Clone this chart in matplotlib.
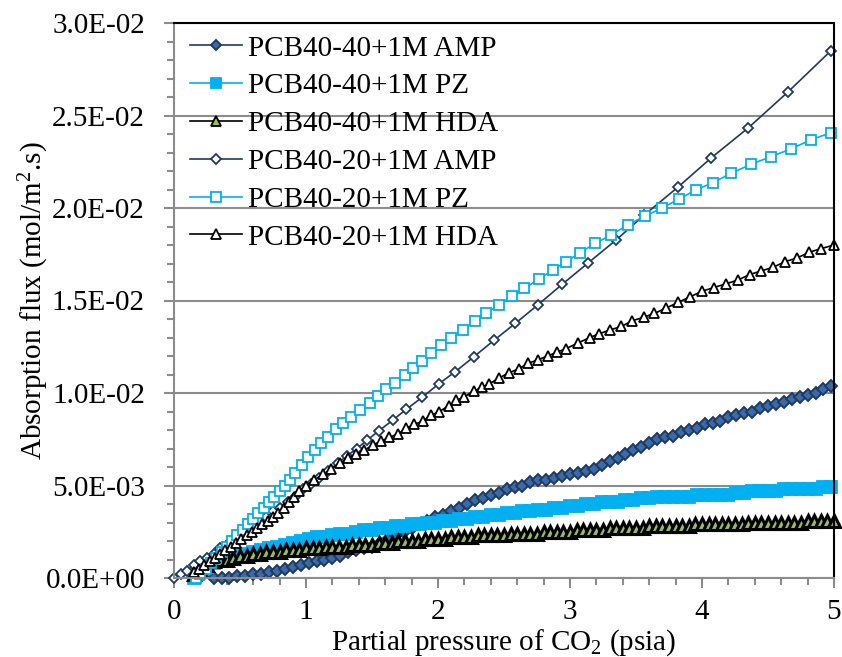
import matplotlib
matplotlib.use("Agg")
import matplotlib.pyplot as plt
from matplotlib.ticker import MultipleLocator, FuncFormatter
import numpy as np

plt.rcParams['font.family'] = ['Liberation Serif', 'DejaVu Serif']
plt.rcParams['mathtext.fontset'] = 'custom'
plt.rcParams['mathtext.rm'] = 'Liberation Serif'

# PCB40-40 membranes
amp40_x = [0.30, 0.36, 0.42, 0.48, 0.54, 0.60, 0.66, 0.72, 0.78, 0.84, 0.90, 0.96,
           1.02, 1.08, 1.14, 1.20, 1.26, 1.32, 1.38, 1.44, 1.50, 1.56, 1.62, 1.68,
           1.74, 1.80, 1.86, 1.92, 1.98, 2.04, 2.10, 2.16, 2.22, 2.28, 2.34, 2.40,
           2.46, 2.52, 2.58, 2.64, 2.70, 2.76, 2.82, 2.88, 2.94, 3.00, 3.06, 3.12,
           3.18, 3.24, 3.30, 3.36, 3.42, 3.48, 3.54, 3.60, 3.66, 3.72, 3.78, 3.84,
           3.90, 3.96, 4.02, 4.08, 4.14, 4.20, 4.26, 4.32, 4.38, 4.44, 4.50, 4.56,
           4.62, 4.68, 4.74, 4.80, 4.86, 4.92, 4.98]
amp40_y = [0.0000, 0.0000, 0.0000, 0.0001, 0.0001, 0.0002, 0.0002, 0.0003, 0.0004, 0.0005, 0.0006, 0.0007,
           0.0008, 0.0009, 0.0010, 0.0011, 0.0012, 0.0014, 0.0015, 0.0016, 0.0017, 0.0019, 0.0021, 0.0023,
           0.0025, 0.0027, 0.0029, 0.0031, 0.0033, 0.0034, 0.0036, 0.0038, 0.0040, 0.0042, 0.0043, 0.0045,
           0.0046, 0.0048, 0.0049, 0.0050, 0.0052, 0.0053, 0.0053, 0.0054, 0.0055, 0.0056, 0.0057, 0.0058,
           0.0059, 0.0061, 0.0063, 0.0065, 0.0067, 0.0069, 0.0071, 0.0073, 0.0075, 0.0076, 0.0077, 0.0079,
           0.0080, 0.0081, 0.0083, 0.0084, 0.0085, 0.0087, 0.0088, 0.0089, 0.0090, 0.0092, 0.0093, 0.0094,
           0.0095, 0.0097, 0.0098, 0.0099, 0.0100, 0.0102, 0.0104]

pz40_x = [0.15, 0.18, 0.21, 0.25, 0.30, 0.36, 0.42, 0.48, 0.54, 0.60, 0.66, 0.72, 0.78, 0.84,
          0.90, 0.96, 1.02, 1.08, 1.14, 1.20, 1.26, 1.32, 1.38, 1.44, 1.50, 1.56, 1.62, 1.68,
          1.74, 1.80, 1.86, 1.92, 1.98, 2.04, 2.10, 2.16, 2.22, 2.28, 2.34, 2.40, 2.46, 2.52,
          2.58, 2.64, 2.70, 2.76, 2.82, 2.88, 2.94, 3.00, 3.06, 3.12, 3.18, 3.24, 3.30, 3.36,
          3.42, 3.48, 3.54, 3.60, 3.66, 3.72, 3.78, 3.84, 3.90, 3.96, 4.02, 4.08, 4.14, 4.20,
          4.26, 4.32, 4.38, 4.44, 4.50, 4.56, 4.62, 4.68, 4.74, 4.80, 4.86, 4.92, 4.98]
pz40_y = [0.0000, 0.0002, 0.0004, 0.0006, 0.0008, 0.0010, 0.0011, 0.0012, 0.0013, 0.0014, 0.0015, 0.0016, 0.0017, 0.0018,
          0.0019, 0.0020, 0.0021, 0.0022, 0.0022, 0.0023, 0.0024, 0.0024, 0.0025, 0.0026, 0.0026, 0.0027, 0.0027, 0.0028,
          0.0028, 0.0029, 0.0029, 0.0030, 0.0030, 0.0031, 0.0031, 0.0032, 0.0032, 0.0033, 0.0033, 0.0034, 0.0034, 0.0035,
          0.0035, 0.0036, 0.0036, 0.0037, 0.0037, 0.0038, 0.0038, 0.0039, 0.0039, 0.0040, 0.0040, 0.0041, 0.0041, 0.0041,
          0.0042, 0.0042, 0.0043, 0.0043, 0.0044, 0.0044, 0.0044, 0.0044, 0.0044, 0.0045, 0.0045, 0.0045, 0.0045, 0.0045,
          0.0046, 0.0046, 0.0047, 0.0047, 0.0047, 0.0047, 0.0048, 0.0048, 0.0048, 0.0048, 0.0048, 0.0049, 0.0049]

hda40_x = [0.15, 0.20, 0.25, 0.30, 0.35, 0.40, 0.45, 0.50, 0.55, 0.60, 0.65, 0.70, 0.75, 0.80,
           0.85, 0.90, 0.95, 1.00, 1.05, 1.10, 1.15, 1.20, 1.25, 1.30, 1.35, 1.40, 1.45, 1.50,
           1.55, 1.60, 1.65, 1.70, 1.75, 1.80, 1.85, 1.90, 1.95, 2.00, 2.05, 2.10, 2.15, 2.20,
           2.25, 2.30, 2.35, 2.40, 2.45, 2.50, 2.55, 2.60, 2.65, 2.70, 2.75, 2.80, 2.85, 2.90,
           2.95, 3.00, 3.05, 3.10, 3.15, 3.20, 3.25, 3.30, 3.35, 3.40, 3.45, 3.50, 3.55, 3.60,
           3.65, 3.70, 3.75, 3.80, 3.85, 3.90, 3.95, 4.00, 4.05, 4.10, 4.15, 4.20, 4.25, 4.30,
           4.35, 4.40, 4.45, 4.50, 4.55, 4.60, 4.65, 4.70, 4.75, 4.80, 4.85, 4.90, 4.95, 5.00]
hda40_y = [0.0002, 0.0005, 0.0007, 0.0009, 0.0010, 0.0010, 0.0011, 0.0012, 0.0012, 0.0013, 0.0013, 0.0014, 0.0014, 0.0014,
           0.0015, 0.0015, 0.0015, 0.0016, 0.0016, 0.0016, 0.0017, 0.0017, 0.0017, 0.0017, 0.0018, 0.0018, 0.0018, 0.0018,
           0.0019, 0.0019, 0.0019, 0.0020, 0.0020, 0.0020, 0.0020, 0.0021, 0.0021, 0.0021, 0.0021, 0.0022, 0.0022, 0.0022,
           0.0022, 0.0023, 0.0023, 0.0023, 0.0023, 0.0023, 0.0024, 0.0024, 0.0024, 0.0024, 0.0024, 0.0025, 0.0025, 0.0025,
           0.0025, 0.0025, 0.0026, 0.0026, 0.0026, 0.0026, 0.0026, 0.0027, 0.0027, 0.0027, 0.0027, 0.0027, 0.0027, 0.0028,
           0.0028, 0.0028, 0.0028, 0.0028, 0.0028, 0.0028, 0.0029, 0.0029, 0.0029, 0.0029, 0.0029, 0.0029, 0.0029, 0.0029,
           0.0030, 0.0030, 0.0030, 0.0030, 0.0030, 0.0030, 0.0030, 0.0030, 0.0030, 0.0031, 0.0031, 0.0031, 0.0031, 0.0031]

# PCB40-20 membranes
amp20_x = [0.00, 0.05, 0.10, 0.15, 0.20, 0.25, 0.30, 0.35, 0.40, 0.45, 0.50, 0.55, 0.60, 0.65,
           0.70, 0.75, 0.80, 0.86, 0.92, 0.98, 1.04, 1.10, 1.17, 1.24, 1.31, 1.385, 1.465, 1.553,
           1.659, 1.760, 1.881, 2.005, 2.131, 2.272, 2.426, 2.587, 2.756, 2.940, 3.139, 3.349,
           3.563, 3.815, 4.070, 4.352, 4.654, 4.975]
amp20_y = [0.0000, 0.0002, 0.0004, 0.0007, 0.0009, 0.0011, 0.0013, 0.0016, 0.0018, 0.0021, 0.0023, 0.0026, 0.0028, 0.0031,
           0.0033, 0.0036, 0.0038, 0.0041, 0.0044, 0.0048, 0.0051, 0.0054, 0.0058, 0.0062, 0.0066, 0.0070, 0.00746, 0.00796,
           0.00854, 0.00912, 0.00977, 0.01049, 0.01115, 0.01196, 0.01286, 0.01377, 0.01476, 0.01587, 0.01704, 0.01827,
           0.01962, 0.02111, 0.02271, 0.02434, 0.02629, 0.02849]

pz20_x = [0.17, 0.20, 0.24, 0.28, 0.32, 0.36, 0.40, 0.44, 0.48, 0.52, 0.56, 0.60, 0.64, 0.68,
          0.72, 0.76, 0.80, 0.84, 0.88, 0.915, 0.966, 1.016, 1.067, 1.117, 1.167, 1.231, 1.281, 1.344,
          1.407, 1.483, 1.545, 1.609, 1.672, 1.747, 1.810, 1.881, 1.949, 2.025, 2.100, 2.188, 2.277,
          2.365, 2.461, 2.562, 2.655, 2.763, 2.869, 2.970, 3.076, 3.192, 3.311, 3.437, 3.568, 3.694,
          3.822, 3.954, 4.080, 4.223, 4.370, 4.521, 4.672, 4.824, 4.975]
pz20_y = [0.0000, 0.0002, 0.0005, 0.0008, 0.0011, 0.0014, 0.0017, 0.0020, 0.0023, 0.0026, 0.0029, 0.0032, 0.0035, 0.0038,
          0.0041, 0.0044, 0.0047, 0.0050, 0.0053, 0.00566, 0.00611, 0.00656, 0.00692, 0.00728, 0.00764, 0.00804, 0.00836, 0.00872,
          0.00908, 0.00948, 0.00984, 0.01020, 0.01056, 0.01097, 0.01134, 0.01175, 0.01215, 0.01259, 0.01296, 0.01341, 0.01389,
          0.01431, 0.01476, 0.01524, 0.01566, 0.01615, 0.01665, 0.01710, 0.01759, 0.01809, 0.01854, 0.01908, 0.01957, 0.01998,
          0.02047, 0.02097, 0.02137, 0.02188, 0.02236, 0.02277, 0.02319, 0.02368, 0.02407]

hda20_x = [0.15, 0.19, 0.23, 0.27, 0.31, 0.35, 0.39, 0.43, 0.47, 0.51, 0.55, 0.59, 0.63, 0.67,
           0.71, 0.75, 0.79, 0.83, 0.87, 0.91, 0.95, 1.00, 1.06, 1.13, 1.19, 1.26, 1.32, 1.38,
           1.44, 1.51, 1.57, 1.63, 1.70, 1.76, 1.82, 1.89, 1.95, 2.01, 2.08, 2.14, 2.20, 2.27,
           2.33, 2.39, 2.46, 2.54, 2.61, 2.68, 2.76, 2.83, 2.90, 2.97, 3.06, 3.15, 3.22, 3.30,
           3.39, 3.47, 3.56, 3.64, 3.73, 3.82, 3.91, 4.00, 4.09, 4.18, 4.27, 4.36, 4.45, 4.54,
           4.63, 4.72, 4.81, 4.90, 5.00]
hda20_y = [0.0003, 0.0005, 0.0007, 0.0009, 0.0011, 0.0013, 0.0015, 0.0017, 0.0019, 0.0021, 0.0023, 0.0025, 0.0027, 0.0029,
           0.0031, 0.0033, 0.0035, 0.0038, 0.0041, 0.0044, 0.0047, 0.0050, 0.0053, 0.0056, 0.0059, 0.0062, 0.0065, 0.0067,
           0.0069, 0.0072, 0.0074, 0.0076, 0.0078, 0.0081, 0.0083, 0.0085, 0.0088, 0.0090, 0.0093, 0.0096, 0.0098, 0.0101,
           0.0103, 0.0105, 0.0108, 0.0111, 0.0113, 0.0116, 0.0118, 0.0120, 0.0122, 0.0124, 0.0127, 0.0130, 0.0132, 0.0134,
           0.0136, 0.0139, 0.0141, 0.0143, 0.0146, 0.0149, 0.0152, 0.0155, 0.0157, 0.0159, 0.0161, 0.0164, 0.0166, 0.0168,
           0.0171, 0.0173, 0.0176, 0.0178, 0.0180]

navy = '#1F3A5F'
cyan = '#00B0F0'

fig = plt.figure(figsize=(8.42, 6.57), dpi=100)
ax = fig.add_axes([174 / 842, 79 / 657, 660 / 842, 555 / 657])

common = dict(lw=1.2, clip_on=False)
ax.plot(amp40_x, amp40_y, color=navy, marker='D', ms=6.5, mew=1.4, mfc='#3C6AA8', mec=navy,
        label='PCB40-40+1M AMP', **common)
ax.plot(pz40_x, pz40_y, color=cyan, marker='s', ms=8.5, mew=1.3, mfc=cyan, mec=cyan,
        label='PCB40-40+1M PZ', **common)
ax.plot(hda40_x, hda40_y, color='black', marker='^', ms=8.5, mew=2.2, mfc='#9BBB59', mec='black',
        label='PCB40-40+1M HDA', **common)
ax.plot(amp20_x, amp20_y, color=navy, marker='D', ms=5, mew=1.3, mfc='white', mec=navy,
        label='PCB40-20+1M AMP', **common)
ax.plot(pz20_x, pz20_y, color=cyan, marker='s', ms=7, mew=1.3, mfc='white', mec=cyan,
        label='PCB40-20+1M PZ', **common)
ax.plot(hda20_x, hda20_y, color='black', marker='^', ms=7, mew=1.3, mfc='white', mec='black',
        label='PCB40-20+1M HDA', **common)

ax.set_xlim(0, 5)
ax.set_ylim(0, 0.03)
ax.xaxis.set_major_locator(MultipleLocator(1))
ax.xaxis.set_minor_locator(MultipleLocator(0.2))
ax.yaxis.set_major_locator(MultipleLocator(0.005))
ax.yaxis.set_minor_locator(MultipleLocator(0.001))
ax.yaxis.set_major_formatter(FuncFormatter(lambda v, p: f"{v:.1E}"))

ax.grid(axis='y', which='major', color='#8C8C8C', lw=1.5, zorder=0)
ax.set_axisbelow(True)

for side in ['left', 'bottom']:
    ax.spines[side].set_color('#8C8C8C')
    ax.spines[side].set_linewidth(1.5)
for side in ['top', 'right']:
    ax.spines[side].set_color('black')
    ax.spines[side].set_linewidth(1.5)

ax.tick_params(which='both', direction='out', color='#8C8C8C', width=1.5, labelsize=21)
ax.tick_params(which='major', length=7)
ax.tick_params(which='minor', length=5)
ax.tick_params(axis='x', pad=8)
ax.tick_params(axis='y', pad=14)

ax.set_xlabel(r'Partial pressure of CO$\mathregular{_2}$ (psia)', fontsize=21, labelpad=2)
ax.set_ylabel('Absorption flux (mol/m$\mathregular{^2}$.s)', fontsize=21, labelpad=-4)

leg = ax.legend(loc='upper left', bbox_to_anchor=(0.024, 0.978), frameon=False, fontsize=21,
                numpoints=1, handlelength=1.8, handletextpad=0.2, labelspacing=0.39,
                borderpad=0, borderaxespad=0)
# the dense HDA band uses heavy edges; keep the legend key at normal weight
hda_key = leg.legend_handles[2]
hda_key.set_markersize(7)
hda_key.set_markeredgewidth(1.3)
leg.legend_handles[0].set_markersize(5.5)
leg.legend_handles[1].set_markersize(7)

fig.savefig('out.png', dpi=100)
